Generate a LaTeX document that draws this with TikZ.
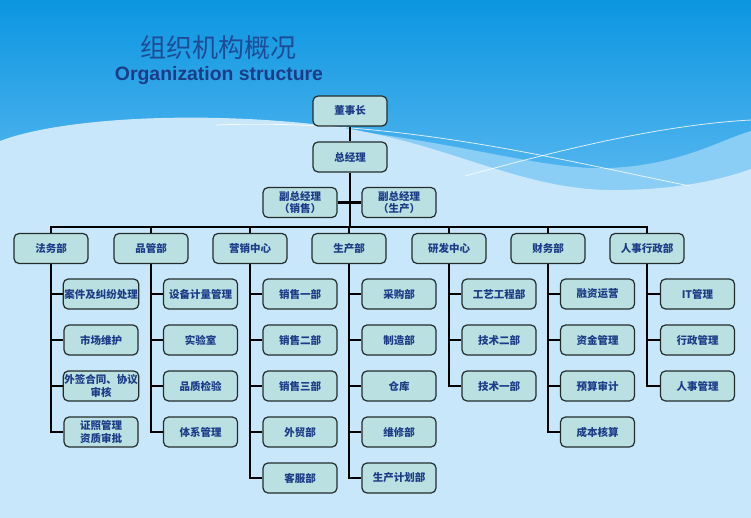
\documentclass[tikz,border=0pt]{standalone}
\usepackage{fontspec}
\newfontfamily\cjk{Noto Sans CJK SC}
\newfontfamily\latinsans{Liberation Sans}
\usetikzlibrary{positioning}

\definecolor{skytop}{RGB}{11,150,225}
\definecolor{skymid}{RGB}{92,185,240}
\definecolor{waveblue}{RGB}{138,205,245}
\definecolor{paleblue}{RGB}{200,231,250}
\definecolor{boxfill}{RGB}{186,224,226}
\definecolor{boxline}{RGB}{35,45,45}
\definecolor{navy}{RGB}{28,60,135}
\definecolor{titleblue}{RGB}{30,75,150}

\begin{document}
\begin{tikzpicture}[
  x=1pt, y=-1pt,
  unit/.style={draw=boxline, line width=1.2pt, fill=boxfill, rounded corners=5pt,
               minimum width=74pt, minimum height=30pt, inner sep=1pt, align=center,
               text=navy, font=\cjk\bfseries\fontsize{10.5}{12.5}\selectfont},
  link/.style={line width=2.8pt, black},
  glint/.style={white, line width=0.8pt, opacity=0.8}
]

% === Background ===
\useasboundingbox (0,0) rectangle (751,518);
\shade[top color=skytop, bottom color=skymid] (0,0) rectangle (751,200);
\fill[waveblue] (150,121) .. controls (400,116) and (520,172) .. (610,168)
  .. controls (680,165) and (720,140) .. (751,131) -- (751,200) -- (150,200) -- cycle;
\fill[paleblue] (0,141) .. controls (60,118) and (200,110) .. (330,126)
  .. controls (450,142) and (520,192) .. (620,190)
  .. controls (680,189) and (720,180) .. (751,169) -- (751,518) -- (0,518) -- cycle;
\draw[glint] (216,125) .. controls (400,118) and (560,160) .. (690,186);
\draw[glint] (465,176) .. controls (560,150) and (660,125) .. (751,120);

% === Title ===
\node[text=titleblue, font=\cjk\fontsize{26}{28}\selectfont] (title) at (218,48) {组织机构概况};
\node[text=navy, font=\latinsans\bfseries\fontsize{19.4}{22}\selectfont] (subtitle) at (219,76) {Organization structure};

% === Top management ===
\node[unit] (chair) at (350,111) {董事长};
\node[unit] (gm) at (350,157) {总经理};
\node[unit] (vps) at (300,202.5) {副总经理\\（销售）};
\node[unit] (vpp) at (399,202.5) {副总经理\\（生产）};
\coordinate (bus) at (350,227);

\draw[link] (chair) -- (gm);
\draw[link] (gm) -- (bus);
\draw[link] (vps.east) -- (vpp.west);

% === Departments ===
\node[unit] (fawu) at (51,248.5) {法务部};
\node[unit] (pinguan) at (151,248.5) {品管部};
\node[unit] (yingxiao) at (250,248.5) {营销中心};
\node[unit] (shengchan) at (349,248.5) {生产部};
\node[unit] (yanfa) at (449,248.5) {研发中心};
\node[unit] (caiwu) at (548,248.5) {财务部};
\node[unit] (renshi) at (647,248.5) {人事行政部};

\foreach \dep in {fawu, pinguan, yingxiao, shengchan, yanfa, caiwu, renshi} {
  \draw[link] (\dep.north) |- (bus);
}

% === Sub-units ===
\foreach \txt [count=\i] in {案件及纠纷处理, 市场维护, {外签合同、协议\\审核}, {证照管理\\资质审批}} {
  \node[unit] (fawu-\i) at (101,{248+46*\i}) {\txt};
  \draw[link] (fawu.south) |- (fawu-\i.west);
}
\foreach \txt [count=\i] in {设备计量管理, 实验室, 品质检验, 体系管理} {
  \node[unit] (pinguan-\i) at (200.5,{248+46*\i}) {\txt};
  \draw[link] (pinguan.south) |- (pinguan-\i.west);
}
\foreach \txt [count=\i] in {销售一部, 销售二部, 销售三部, 外贸部, 客服部} {
  \node[unit] (yingxiao-\i) at (300,{248+46*\i}) {\txt};
  \draw[link] (yingxiao.south) |- (yingxiao-\i.west);
}
\foreach \txt [count=\i] in {采购部, 制造部, 仓库, 维修部, 生产计划部} {
  \node[unit] (shengchan-\i) at (399,{248+46*\i}) {\txt};
  \draw[link] (shengchan.south) |- (shengchan-\i.west);
}
\foreach \txt [count=\i] in {工艺工程部, 技术二部, 技术一部} {
  \node[unit] (yanfa-\i) at (499,{248+46*\i}) {\txt};
  \draw[link] (yanfa.south) |- (yanfa-\i.west);
}
\foreach \txt [count=\i] in {融资运营, 资金管理, 预算审计, 成本核算} {
  \node[unit] (caiwu-\i) at (597.5,{248+46*\i}) {\txt};
  \draw[link] (caiwu.south) |- (caiwu-\i.west);
}
\foreach \txt [count=\i] in {IT管理, 行政管理, 人事管理} {
  \node[unit] (renshi-\i) at (697.5,{248+46*\i}) {\txt};
  \draw[link] (renshi.south) |- (renshi-\i.west);
}

\end{tikzpicture}
\end{document}
